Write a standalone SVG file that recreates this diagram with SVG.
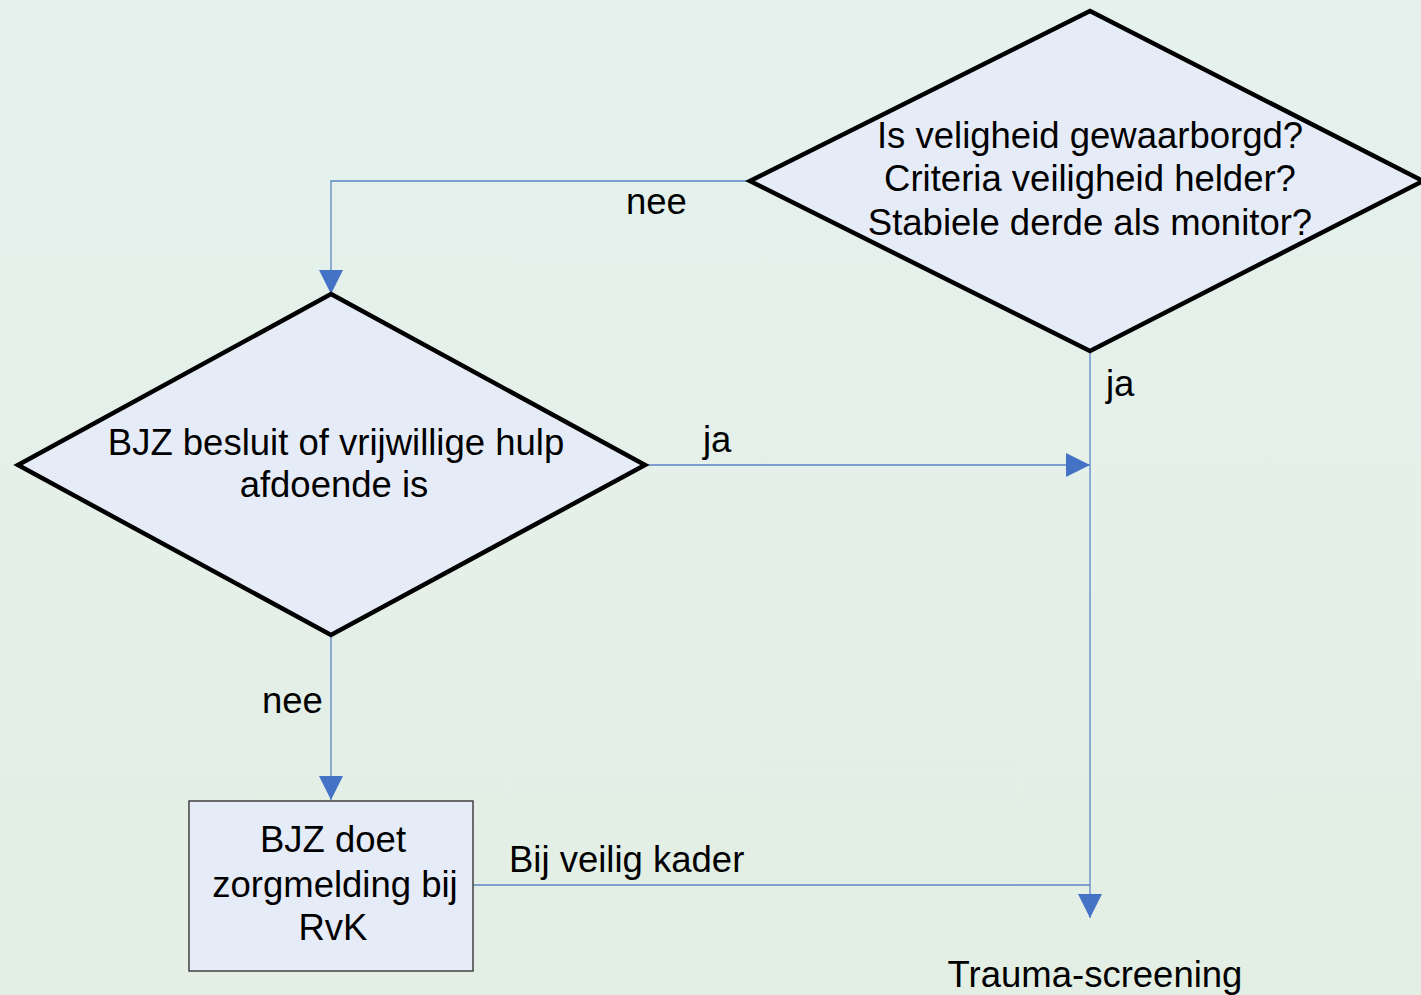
<svg xmlns="http://www.w3.org/2000/svg" width="1421" height="995" viewBox="0 0 1421 995">
<defs>
<linearGradient id="bg" x1="0" y1="0" x2="0" y2="1">
<stop offset="0" stop-color="#e5f1ed"/>
<stop offset="1" stop-color="#e3efe4"/>
</linearGradient>
<marker id="arr" markerUnits="userSpaceOnUse" markerWidth="24" markerHeight="24" viewBox="0 0 22 22" refX="22" refY="11" orient="auto">
<path d="M0,0 L22,11 L0,22 Z" fill="#4472c4"/>
</marker>
<style>
.dia{fill:#e6ecf7;stroke:#000;stroke-width:4.5;stroke-linejoin:miter}
.box{fill:#e6ecf7;stroke:#404040;stroke-width:1.5}
.t{font-family:"Liberation Sans",Arial,sans-serif;font-size:36.5px;fill:#000;text-anchor:middle}
.lbl{font-family:"Liberation Sans",Arial,sans-serif;font-size:36.5px;fill:#000}
.c{fill:none;stroke:#5b86c4;stroke-width:1.3}
</style>
</defs>
<rect width="1421" height="995" fill="url(#bg)"/>
<g id="connectors">
<path class="c" d="M750,181 H331 V294" marker-end="url(#arr)"/>
<path class="c" d="M645,465 H1090" marker-end="url(#arr)"/>
<path class="c" d="M331,635 V800" marker-end="url(#arr)"/>
<path class="c" d="M1090,351 V918" marker-end="url(#arr)"/>
<path class="c" d="M473,885 H1090"/>
<text class="lbl" x="626" y="214">nee</text>
<text class="lbl" x="703" y="452">ja</text>
<text class="lbl" x="1106" y="396">ja</text>
<text class="lbl" x="262" y="713">nee</text>
<text class="lbl" x="509" y="872">Bij veilig kader</text>
</g>
<g id="node-veiligheid">
<polygon class="dia" points="1090,11 1423,181 1090,351 750,181"/>
<text class="t" x="1090" y="148">Is veligheid gewaarborgd?</text>
<text class="t" x="1090" y="191">Criteria veiligheid helder?</text>
<text class="t" x="1090" y="235">Stabiele derde als monitor?</text>
</g>
<g id="node-besluit">
<polygon class="dia" points="331,294 645,465 331,635 18,465"/>
<text class="t" x="336" y="455">BJZ besluit of vrijwillige hulp</text>
<text class="t" x="334" y="497">afdoende is</text>
</g>
<g id="node-zorgmelding">
<rect class="box" x="189" y="801" width="284" height="170"/>
<text class="t" x="333" y="852">BJZ doet</text>
<text class="t" x="335" y="897">zorgmelding bij</text>
<text class="t" x="333" y="940">RvK</text>
</g>
<g id="node-trauma">
<text class="t" x="1095" y="987">Trauma-screening</text>
</g>
</svg>
